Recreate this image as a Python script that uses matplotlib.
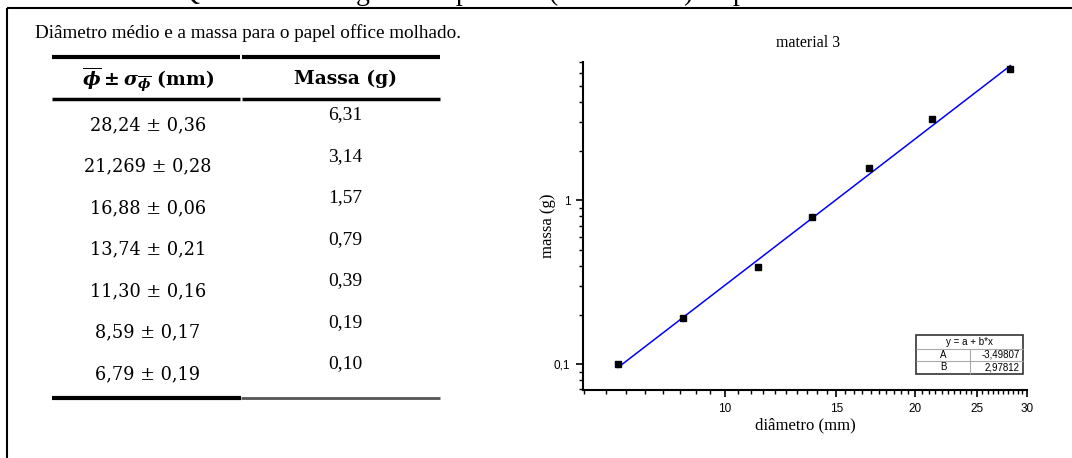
import numpy as np
import matplotlib
matplotlib.use('Agg')
import matplotlib.pyplot as plt
from matplotlib.lines import Line2D
from matplotlib.patches import Rectangle

# Table data (as printed, Brazilian decimal comma)
diam_labels = ['28,24', '21,269', '16,88', '13,74', '11,30', '8,59', '6,79']
erro_labels = ['0,36', '0,28', '0,06', '0,21', '0,16', '0,17', '0,19']
massa_labels = ['6,31', '3,14', '1,57', '0,79', '0,39', '0,19', '0,10']

# Linear fit in log-log space: log(m) = a + b*log(d)
fit_a = -3.49807
fit_b = 2.97812
fit_a_label = '-3,49807'
fit_b_label = '2,97812'

x_ticks = [10, 15, 20, 25, 30]
y_ticks = [0.1, 1]
y_tick_labels = ['0,1', '1']

W, H = 1072, 458


def to_num(s):
    return float(s.replace(',', '.'))


def px(x, y):
    # pixel coords (from top-left) -> figure fraction
    return x / W, 1 - y / H


def hline(fig, x0, x1, y, lw, color='black'):
    (fx0, fy), (fx1, _) = px(x0, y), px(x1, y)
    fig.add_artist(Line2D([fx0, fx1], [fy, fy], lw=lw, color=color,
                          transform=fig.transFigure, solid_capstyle='butt'))


def vline(fig, x, y0, y1, lw, color='black'):
    (fx, fy0), (_, fy1) = px(x, y0), px(x, y1)
    fig.add_artist(Line2D([fx, fx], [fy0, fy1], lw=lw, color=color,
                          transform=fig.transFigure, solid_capstyle='butt'))


def ftext(fig, x, y, s, **kw):
    fx, fy = px(x, y)
    return fig.text(fx, fy, s, **kw)


plt.rcParams['mathtext.fontset'] = 'custom'
plt.rcParams['mathtext.rm'] = 'DejaVu Serif:bold'
plt.rcParams['mathtext.it'] = 'DejaVu Serif:italic:bold'
plt.rcParams['mathtext.bf'] = 'DejaVu Serif:bold'

diametro = np.array([to_num(s) for s in diam_labels])
massa = np.array([to_num(s) for s in massa_labels])

fig = plt.figure(figsize=(W / 100, H / 100), dpi=100)

# Document frame and cut-off line of text above it
hline(fig, 7, W, 8, 1.5)
vline(fig, 7, 8, H, 1.5)
for ch, xc in [('Q', 190), ('g', 363), ('p', 463), ('(', 553), (')', 688), ('p', 740)]:
    ftext(fig, xc, 0, ch, family='Liberation Serif', fontsize=20,
          ha='center', va='baseline')

# ---- Left: table ----
ftext(fig, 35, 33, 'Diâmetro médio e a massa para o papel office molhado.',
      family='Liberation Serif', fontsize=13.8, va='center', ha='left')

hline(fig, 52, 240, 57, 3)
hline(fig, 242, 440, 57, 3)
hline(fig, 52, 240, 99, 2.5)
hline(fig, 242, 440, 99, 2.5)
hline(fig, 52, 241, 398, 3)
hline(fig, 241, 440, 398, 2, color='#555555')

col1_x, col2_x = 148, 345
ftext(fig, col1_x, 79, r'$\overline{\phi} \pm \sigma_{\overline{\phi}}\ \mathrm{(mm)}$',
      fontsize=13.5, ha='center', va='center')
ftext(fig, col2_x, 79, 'Massa (g)', family='DejaVu Serif', fontweight='bold',
      fontsize=13.5, ha='center', va='center')

row_step = 41.5
for i, (d, e, m) in enumerate(zip(diam_labels, erro_labels, massa_labels)):
    ftext(fig, col1_x, 125 + i * row_step, f'{d} ± {e}', family='DejaVu Serif',
          fontsize=12.8, ha='center', va='center')
    ftext(fig, col2_x, 115 + i * row_step, m, family='Liberation Serif',
          fontsize=14, ha='center', va='center')

# ---- Right: log-log plot ----
ax_l, ax_r, ax_t, ax_b = 583, 1027, 62, 390
fl, fb = px(ax_l, ax_b)
ax = fig.add_axes([fl, fb, (ax_r - ax_l) / W, (ax_b - ax_t) / H])
ax.set_xscale('log')
ax.set_yscale('log')

xs = np.array([diametro.min(), diametro.max()])
ax.plot(xs, 10 ** (fit_a + fit_b * np.log10(xs)), color='#0000ff', lw=1.1, zorder=2)
ax.plot(diametro, massa, 's', color='black', markersize=5, zorder=3)

ax.set_xlim(5.98, 30)
ax.set_ylim(0.0695, 7.0)

ax.set_xticks(x_ticks)
ax.set_xticklabels([str(t) for t in x_ticks])
ax.set_xticks([v for v in np.arange(6.0, 30.0, 0.5) if v not in x_ticks], minor=True)
ax.set_xticklabels([], minor=True)
ax.set_yticks(y_ticks)
ax.set_yticklabels(y_tick_labels)
ax.yaxis.set_minor_locator(matplotlib.ticker.LogLocator(base=10, subs=np.arange(2, 10)))
ax.yaxis.set_minor_formatter(matplotlib.ticker.NullFormatter())

for side in ['top', 'right']:
    ax.spines[side].set_visible(False)
for side in ['left', 'bottom']:
    ax.spines[side].set_linewidth(1.5)
ax.tick_params(which='major', direction='out', length=5, width=1.2,
               labelsize=8.5, pad=4)
ax.tick_params(which='minor', direction='out', length=3, width=1)
for lab in ax.get_xticklabels() + ax.get_yticklabels():
    lab.set_family('Liberation Sans')

ftext(fig, 808, 43, 'material 3', family='Liberation Serif', fontsize=11.5,
      ha='center', va='center')
ftext(fig, 805, 425, 'diâmetro (mm)', family='Liberation Serif', fontsize=12,
      ha='center', va='center')
ftext(fig, 548, 226, 'massa (g)', family='Liberation Serif', fontsize=12,
      ha='center', va='center', rotation=90)

# Fit parameter box
bl, bt, br, bb = 916, 335, 1023, 374
r1, r2, cdiv = 348.5, 361, 970
hline(fig, bl, br, r1, 0.8, color='#aaaaaa')
hline(fig, bl, br, r2, 0.8, color='#aaaaaa')
vline(fig, cdiv, r1, bb, 0.8, color='#aaaaaa')
x0, y0 = px(bl, bb)
fig.add_artist(Rectangle((x0, y0), (br - bl) / W, (bb - bt) / H, fill=False,
                         ec='#333333', lw=1.2, transform=fig.transFigure))
box_font = dict(family='Liberation Sans', fontsize=7, va='center')
ftext(fig, (bl + br) / 2, (bt + r1) / 2, 'y = a + b*x', ha='center', **box_font)
ftext(fig, (bl + cdiv) / 2, (r1 + r2) / 2, 'A', ha='center', **box_font)
ftext(fig, br - 3, (r1 + r2) / 2, fit_a_label, ha='right', **box_font)
ftext(fig, (bl + cdiv) / 2, (r2 + bb) / 2, 'B', ha='center', **box_font)
ftext(fig, br - 3, (r2 + bb) / 2, fit_b_label, ha='right', **box_font)

fig.savefig('out.png', dpi=100)
